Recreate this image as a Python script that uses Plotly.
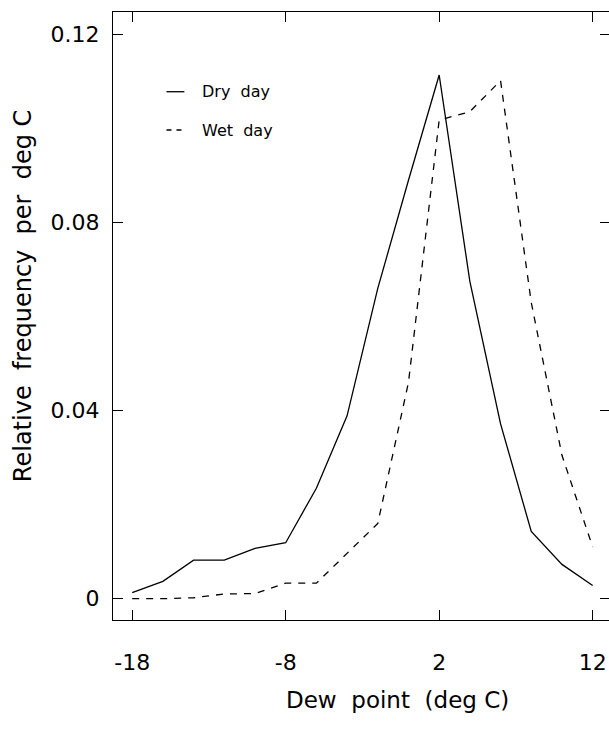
import plotly.graph_objects as go

dew_point = [-18, -16, -14, -12, -10, -8, -6, -4, -2, 0, 2, 4, 6, 8, 10, 12]
dry_day = [0.0013, 0.0037, 0.0082, 0.0082, 0.0107, 0.0119, 0.0235, 0.0389,
           0.0660, 0.0890, 0.1114, 0.0675, 0.0372, 0.0143, 0.0073, 0.0028]
wet_day = [0.0000, 0.0000, 0.0002, 0.0010, 0.0011, 0.0033, 0.0033, 0.0097,
           0.0160, 0.0460, 0.1018, 0.1036, 0.1102, 0.0630, 0.0305, 0.0110]
x_ticks = [-18, -8, 2, 12]
y_ticks = [0, 0.04, 0.08, 0.12]
y_tick_text = ["0", "0.04", "0.08", "0.12"]

FONT = "DejaVu Sans, Liberation Sans, sans-serif"
W, H = 611, 738  # right frame sits just past the 609px window edge, as in the reference

fig = go.Figure()
fig.add_trace(go.Scatter(x=dew_point, y=dry_day, mode="lines", name="Dry day",
                         line=dict(color="black", width=1.3)))
fig.add_trace(go.Scatter(x=dew_point, y=wet_day, mode="lines", name="Wet day",
                         line=dict(color="black", width=1.3, dash="7px,7px")))

axis_common = dict(showline=True, linecolor="black", linewidth=1.2, mirror="allticks",
                   ticks="inside", ticklen=10, tickwidth=1.2, tickcolor="black",
                   showgrid=False, zeroline=False,
                   tickfont=dict(family=FONT, size=22, color="black"))

fig.update_xaxes(range=[-19.25, 13.13], tickvals=x_ticks, ticktext=[str(v) for v in x_ticks],
                 ticklabelstandoff=22, **axis_common)
fig.update_yaxes(range=[-0.00453, 0.1248], tickvals=y_ticks, ticktext=y_tick_text,
                 ticklabelstandoff=8, **axis_common)

# legend drawn inside the plot
fig.add_shape(type="line", xref="paper", yref="paper", x0=0.1076, x1=0.1436, y0=0.8689, y1=0.8689,
              line=dict(color="black", width=1.3))
fig.add_shape(type="line", xref="paper", yref="paper", x0=0.1076, x1=0.1436, y0=0.8059, y1=0.8059,
              line=dict(color="black", width=1.3, dash="5px,5px"))
fig.add_annotation(xref="paper", yref="paper", x=0.1755, y=0.8689, text="Dry  day", showarrow=False,
                   xanchor="left", yanchor="middle", font=dict(family=FONT, size=16, color="black"))
fig.add_annotation(xref="paper", yref="paper", x=0.1755, y=0.8059, text="Wet  day", showarrow=False,
                   xanchor="left", yanchor="middle", font=dict(family=FONT, size=16, color="black"))

# axis titles
fig.add_annotation(xref="paper", yref="paper", x=0.5723, y=-0.1316, text="Dew  point  (deg C)",
                   showarrow=False, xanchor="center", yanchor="middle",
                   font=dict(family=FONT, size=23, color="black"))
fig.add_annotation(xref="paper", yref="paper", x=-0.1807, y=0.533, text="Relative  frequency  per  deg C",
                   showarrow=False, xanchor="center", yanchor="middle", textangle=-90,
                   font=dict(family=FONT, size=24, color="black"))

fig.update_layout(width=W, height=H, margin=dict(l=113, r=0, t=12, b=118),
                  paper_bgcolor="white", plot_bgcolor="white", showlegend=False)

# remove the default page margin so the figure fills the 609x738 window exactly
post = ("document.body.style.margin='0';document.body.style.overflow='hidden';"
        "Plotly.relayout('{plot_id}', {width: %d, height: %d});" % (W, H))
fig.write_html("out.html", post_script=post, config={"displayModeBar": False})
